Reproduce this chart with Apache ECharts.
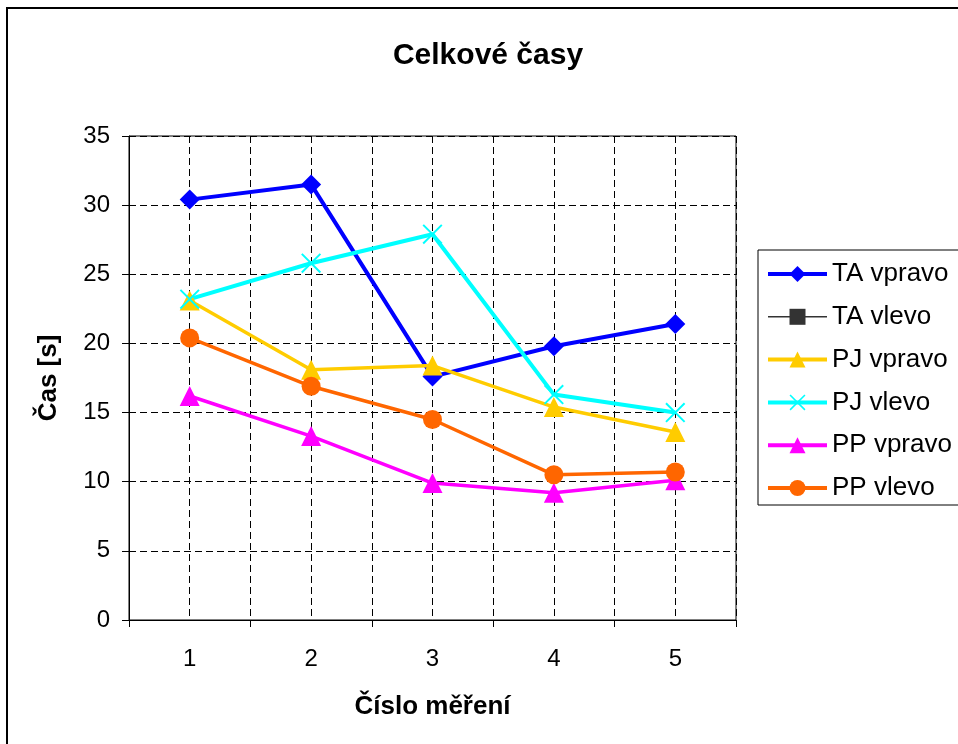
<!DOCTYPE html>
<html>
<head>
<meta charset="utf-8">
<script src="https://cdn.jsdelivr.net/npm/echarts@6/dist/echarts.min.js"></script>
<style>
  html, body { margin: 0; padding: 0; background: #fff; }
  #chart { width: 958px; height: 744px; }
</style>
</head>
<body>
<div id="chart"></div>
<script>
// Measurement numbers (category axis)
const categories = ['1', '2', '3', '4', '5'];

// Total times in seconds for each side / person
const taVpravo = [30.4, 31.5, 17.6, 19.8, 21.4];
const taVlevo = [null, null, null, null, null];
const pjVpravo = [23.1, 18.1, 18.4, 15.4, 13.6];
const pjVlevo = [23.2, 25.8, 27.9, 16.3, 15.0];
const ppVpravo = [16.2, 13.3, 9.9, 9.2, 10.1];
const ppVlevo = [20.4, 16.9, 14.5, 10.5, 10.7];

// Y axis ticks
const yTicks = { min: 0, max: 35, step: 5 };

const FONT = "'Liberation Sans', Arial, sans-serif";
const crossPath = 'path://M0,1.4 L1.4,0 L20,18.6 L18.6,20 Z M18.6,0 L20,1.4 L1.4,20 L0,18.6 Z';

function lineSeries(name, data, color, symbol, size, width) {
  return {
    name: name,
    type: 'line',
    data: data,
    xAxisIndex: 0,
    symbol: symbol,
    symbolSize: size,
    showSymbol: true,
    connectNulls: false,
    lineStyle: { color: color, width: width },
    itemStyle: { color: color },
    emphasis: { disabled: true }
  };
}

function legendItem(name, width) {
  return { name: name, lineStyle: { width: width } };
}

const chart = echarts.init(document.getElementById('chart'));
chart.setOption({
  animation: false,
  backgroundColor: '#fff',
  textStyle: { fontFamily: FONT },
  graphic: [
    {
      type: 'rect',
      shape: { x: 7, y: 8, width: 1000, height: 1000 },
      style: { fill: 'none', stroke: '#000', lineWidth: 2 },
      z: -10
    },
    {
      type: 'rect',
      shape: { x: 758, y: 250, width: 300, height: 255 },
      style: { fill: '#fff', stroke: '#000', lineWidth: 1 },
      z: -5
    },
    {
      type: 'text',
      x: 488,
      y: 56,
      style: {
        text: 'Celkové časy',
        fontFamily: FONT,
        fontWeight: 'bold',
        fontSize: 30,
        fill: '#000',
        textAlign: 'center',
        textVerticalAlign: 'middle'
      }
    }
  ],
  grid: {
    left: 129, top: 136, width: 607, height: 484,
    show: true, borderColor: '#000', borderWidth: 1, backgroundColor: 'transparent'
  },
  legend: {
    orient: 'vertical',
    left: 766,
    top: 261,
    padding: 0,
    itemWidth: 59,
    itemHeight: 20,
    itemGap: 16.8,
    textStyle: { fontFamily: FONT, fontSize: 26, color: '#000' },
    data: [
      legendItem('TA vpravo', 4),
      legendItem('TA vlevo', 1.5),
      legendItem('PJ vpravo', 4),
      legendItem('PJ vlevo', 4),
      legendItem('PP vpravo', 4),
      legendItem('PP vlevo', 4)
    ]
  },
  xAxis: [
    {
      type: 'category',
      data: categories,
      boundaryGap: true,
      name: 'Číslo měření',
      nameLocation: 'middle',
      nameGap: 74,
      nameTextStyle: { fontFamily: FONT, fontWeight: 'bold', fontSize: 26, color: '#000' },
      axisLine: { lineStyle: { color: '#000', width: 1 } },
      axisTick: { show: true, length: 7, lineStyle: { color: '#000' } },
      axisLabel: { margin: 27, fontFamily: FONT, fontSize: 24, color: '#000' },
      splitLine: { show: false }
    },
    {
      // gridlines at both category centres and boundaries
      type: 'value',
      min: 0.5, max: 5.5, interval: 0.5,
      position: 'bottom',
      axisLine: { show: false },
      axisTick: { show: false },
      axisLabel: { show: false },
      splitLine: { show: true, lineStyle: { color: '#000', width: 1, type: [7, 4] } }
    }
  ],
  yAxis: {
    type: 'value',
    min: yTicks.min, max: yTicks.max, interval: yTicks.step,
    name: 'Čas [s]',
    nameLocation: 'middle',
    nameGap: 67,
    nameTextStyle: { fontFamily: FONT, fontWeight: 'bold', fontSize: 26, color: '#000' },
    axisLine: { show: true, lineStyle: { color: '#000', width: 1 } },
    axisTick: { show: true, length: 7, lineStyle: { color: '#000' } },
    axisLabel: { margin: 19, fontFamily: FONT, fontSize: 24, color: '#000' },
    splitLine: { show: true, lineStyle: { color: '#000', width: 1, type: [7, 4] } }
  },
  series: [
    lineSeries('TA vpravo', taVpravo, '#0000FF', 'diamond', 20, 4),
    lineSeries('TA vlevo', taVlevo, '#333333', 'rect', 9, 1.5),
    lineSeries('PJ vpravo', pjVpravo, '#FFCC00', 'triangle', 20, 3.5),
    lineSeries('PJ vlevo', pjVlevo, '#00FFFF', crossPath, 20, 4),
    lineSeries('PP vpravo', ppVpravo, '#FF00FF', 'triangle', 20, 3.5),
    lineSeries('PP vlevo', ppVlevo, '#FF6600', 'circle', 19, 3.5)
  ]
});
</script>
</body>
</html>
